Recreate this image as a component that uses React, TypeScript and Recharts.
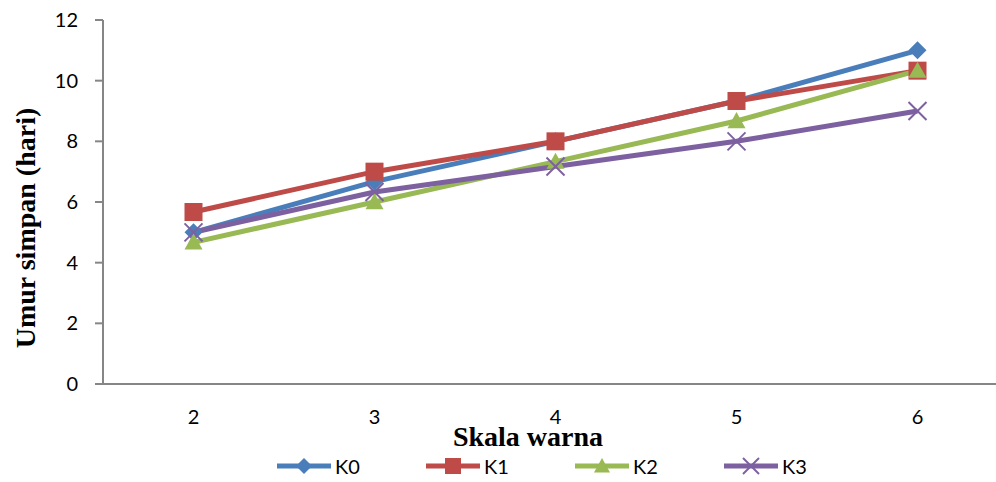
import React from 'react';
import { LineChart, Line, XAxis, YAxis, Legend } from 'recharts';

// Skala warna categories and shelf life values (days)
const categories = [2, 3, 4, 5, 6];
const k0 = [5.0, 6.67, 8.0, 9.33, 11.0];
const k1 = [5.67, 7.0, 8.0, 9.33, 10.33];
const k2 = [4.67, 6.0, 7.33, 8.67, 10.33];
const k3 = [5.0, 6.33, 7.17, 8.0, 9.0];
const yTicks = [0, 2, 4, 6, 8, 10, 12];
// category boundaries, where Excel puts its tick marks
const xBounds = [1.5, 2.5, 3.5, 4.5, 5.5, 6.5];

const data = categories.map((c, i) => ({ x: c, K0: k0[i], K1: k1[i], K2: k2[i], K3: k3[i] }));

const SERIES = [
  { key: 'K0', color: '#4A7EBB', marker: 'diamond' },
  { key: 'K1', color: '#BE4B48', marker: 'square' },
  { key: 'K2', color: '#98B954', marker: 'triangle' },
  { key: 'K3', color: '#7D60A0', marker: 'cross' },
];

const AXIS = '#868686';
const SANS = 'Lato, "Open Sans", sans-serif';
const SERIF = '"Liberation Serif", "DejaVu Serif", serif';

const Marker = ({ type, cx, cy, color, s = 9 }: any) => {
  if (cx == null || cy == null) return null;
  if (type === 'diamond')
    return <polygon points={`${cx},${cy - s} ${cx + s},${cy} ${cx},${cy + s} ${cx - s},${cy}`} fill={color} />;
  if (type === 'square')
    return <rect x={cx - s} y={cy - s} width={s * 2} height={s * 2} fill={color} />;
  if (type === 'triangle')
    return <polygon points={`${cx},${cy - s} ${cx + s},${cy + s * 0.8} ${cx - s},${cy + s * 0.8}`} fill={color} />;
  return (
    <g stroke={color} strokeWidth={2}>
      <line x1={cx - s} y1={cy - s} x2={cx + s} y2={cy + s} />
      <line x1={cx - s} y1={cy + s} x2={cx + s} y2={cy - s} />
    </g>
  );
};

const renderLegend = () => (
  <div style={{ display: 'flex', fontFamily: SANS, fontSize: 20, color: '#000' }}>
    {SERIES.map((s) => (
      <div key={s.key} style={{ display: 'flex', alignItems: 'center', width: 149 }}>
        <svg width={58} height={24}>
          <line x1={2} y1={12} x2={56} y2={12} stroke={s.color} strokeWidth={5} />
          <Marker type={s.marker} cx={29} cy={12} color={s.color} s={8} />
        </svg>
        <span style={{ marginLeft: 2 }}>{s.key}</span>
      </div>
    ))}
  </div>
);

const YLabel = ({ viewBox }: any) => {
  const cy = viewBox.y + viewBox.height / 2 + 26;
  return (
    <text
      x={25}
      y={cy}
      transform={`rotate(-90 25 ${cy})`}
      textAnchor="middle"
      dominantBaseline="central"
      fontFamily={SERIF}
      fontWeight="bold"
      fontSize={28}
      fill="#000"
    >
      Umur simpan (hari)
    </text>
  );
};

const XLabel = ({ viewBox }: any) => (
  <text
    x={528}
    y={viewBox.y + 61}
    textAnchor="middle"
    fontFamily={SERIF}
    fontWeight="bold"
    fontSize={28}
    fill="#000"
  >
    Skala warna
  </text>
);

export default function App() {
  return (
    <div style={{ position: 'absolute', left: 0, top: 0, width: 996, height: 482, overflow: 'hidden', background: '#fff' }}>
      <LineChart width={1010} height={482} data={data} margin={{ top: 20, right: 2, bottom: 4, left: 0 }}>
        <XAxis
          dataKey="x"
          type="number"
          domain={[1.5, 6.5]}
          ticks={xBounds}
          height={1}
          stroke={AXIS}
          strokeWidth={2}
          tickSize={7}
          tick={false}
        />
        <XAxis
          xAxisId="labels"
          dataKey="x"
          type="number"
          domain={[1.5, 6.5]}
          ticks={categories}
          height={69}
          axisLine={false}
          tickLine={false}
          tickSize={0}
          tickMargin={25}
          tick={{ fill: '#000', fontSize: 20, fontFamily: SANS }}
          interval={0}
          label={<XLabel />}
        />
        <YAxis
          width={103}
          domain={[0, 12]}
          ticks={yTicks}
          stroke={AXIS}
          strokeWidth={2}
          tickSize={8}
          tickMargin={17}
          tick={{ fill: '#000', fontSize: 20, fontFamily: SANS }}
          label={<YLabel />}
        />
        <Legend
          verticalAlign="bottom"
          height={24}
          content={renderLegend}
          wrapperStyle={{ left: 275, width: 600 }}
        />
        {SERIES.map((s) => (
          <Line
            key={s.key}
            dataKey={s.key}
            stroke={s.color}
            strokeWidth={5}
            isAnimationActive={false}
            dot={(p: any) => <Marker key={`${s.key}-${p.index}`} type={s.marker} cx={p.cx} cy={p.cy} color={s.color} />}
            activeDot={false}
          />
        ))}
      </LineChart>
    </div>
  );
}
